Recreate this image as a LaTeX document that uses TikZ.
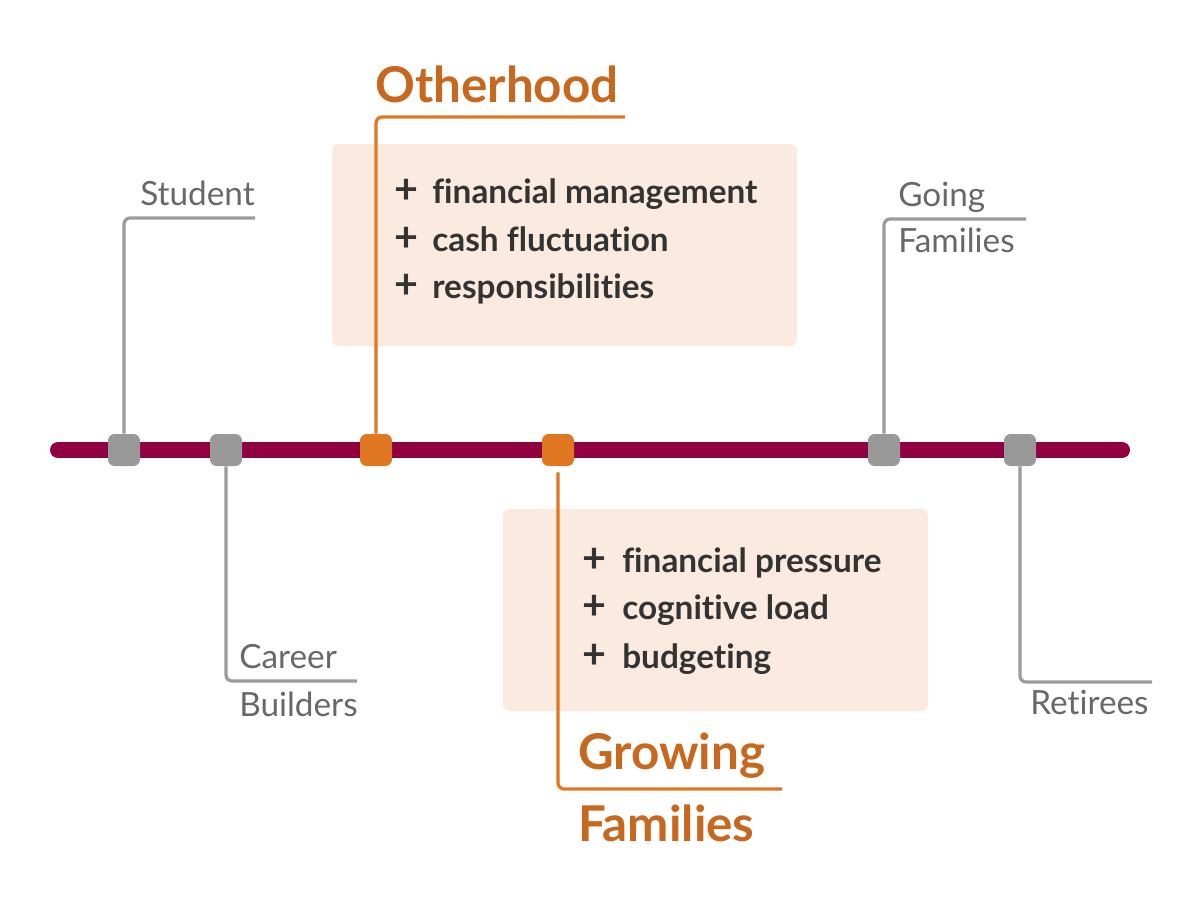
\documentclass[tikz,border=0pt]{standalone}
\usepackage{fontspec}
\setmainfont{Lato}[Ligatures={NoCommon}]
\definecolor{tline}{RGB}{145,0,65}
\definecolor{lgray}{RGB}{155,155,155}
\definecolor{mgray}{RGB}{153,153,153}
\definecolor{tgray}{RGB}{104,104,104}
\definecolor{lorange}{RGB}{224,119,34}
\definecolor{morange}{RGB}{224,119,34}
\definecolor{torange}{RGB}{200,104,31}
\definecolor{boxfill}{RGB}{251,234,223}
\definecolor{titem}{RGB}{51,51,51}
\begin{document}
\begin{tikzpicture}[x=0.75pt,y=-0.75pt,
  gline/.style={draw=lgray,line width=2.4pt,rounded corners=4.5pt},
  oline/.style={draw=lorange,line width=2.4pt,rounded corners=4.5pt},
  marker/.style={rectangle,rounded corners=5pt,minimum size=24pt,inner sep=0pt},
  gmark/.style={marker,fill=mgray},
  omark/.style={marker,fill=morange},
  glabel/.style={text=tgray,font=\fontsize{25}{30}\selectfont,inner sep=0pt},
  olabel/.style={text=torange,font=\fontsize{37}{44}\selectfont\bfseries,inner sep=0pt,anchor=base west},
  item/.style={text=titem,font=\fontsize{25}{30}\selectfont\bfseries,inner sep=0pt,anchor=base west},
  plus/.style={text=titem,font=\fontsize{31}{32}\selectfont\bfseries,inner sep=0pt,anchor=base},
  infobox/.style={fill=boxfill,rounded corners=5pt,inner sep=0pt,draw=none}]
\useasboundingbox (0,0) rectangle (1200,900);
% boxes
\node[infobox,minimum width=348.75pt,minimum height=151.5pt] (b1) at (564.5,245) {};
\node[infobox,minimum width=318.75pt,minimum height=151.5pt] (b2) at (715.5,610) {};
% main line
\coordinate (ls) at (58,450);
\coordinate (le) at (1122,450);
\draw[line width=12pt,line cap=round,draw=tline] (ls) -- (le);
% markers
\node[gmark] (m1) at (124,450) {};
\node[gmark] (m2) at (226,450) {};
\node[omark] (m3) at (376,450) {};
\node[omark] (m4) at (558,450) {};
\node[gmark] (m5) at (884,450) {};
\node[gmark] (m6) at (1020,450) {};
% connector ends
\coordinate (c1) at (255,218);
\coordinate (c2) at (357,681);
\coordinate (c3) at (625,117);
\coordinate (c4) at (782,789);
\coordinate (c5) at (1026,219);
\coordinate (c6) at (1152,682);
\draw[gline] (m1.north) |- (c1);
\draw[gline] (m2.south) |- (c2);
\draw[oline] (m3.north) |- (c3);
\draw[oline] ([yshift=-4.5pt]m4.south) |- (c4);
\draw[gline] (m5.north) |- (c5);
\draw[gline] (m6.south) |- (c6);
% gray labels
\node[glabel,anchor=base east] (tstudent) at (255,205) {Student};
\node[glabel,anchor=base west] (tcareer) at (239,668) {Career};
\node[glabel,anchor=base west] (tbuilders) at (239,716) {Builders};
\node[glabel,anchor=base west] (tgoing) at (898,206) {Going};
\node[glabel,anchor=base west] (tgfam) at (898,252) {Families};
\node[glabel,anchor=base west] (tretirees) at (1030,714) {Retirees};
% orange labels
\node[olabel] (tother) at (375,102) {Otherhood};
\node[olabel] (tgrowing) at (578,769) {Growing};
\node[olabel] (tfamilies) at (578,841) {Families};
% items box 1
\node[plus] (p11) at (406,203) {+};
\node[item] (i11) at (432,203) {financial management};
\node[plus] (p12) at (406,251) {+};
\node[item] (i12) at (432,251) {cash fluctuation};
\node[plus] (p13) at (406,298) {+};
\node[item] (i13) at (432,298) {responsibilities};
% items box 2
\node[plus] (p21) at (594,572) {+};
\node[item] (i21) at (622,572) {financial pressure};
\node[plus] (p22) at (594,619) {+};
\node[item] (i22) at (622,619) {cognitive load};
\node[plus] (p23) at (594,668) {+};
\node[item] (i23) at (622,668) {budgeting};
\end{tikzpicture}
\end{document}
